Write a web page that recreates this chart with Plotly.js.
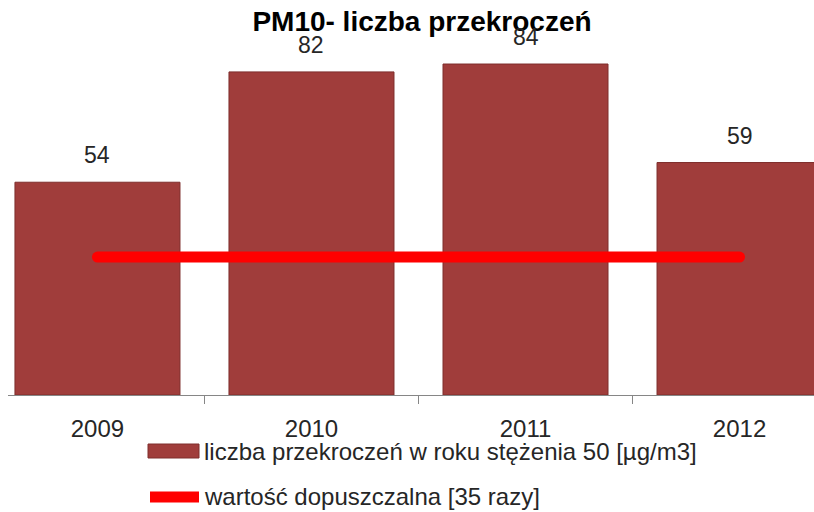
<!DOCTYPE html>
<html>
<head>
<meta charset="utf-8">
<script src="https://cdn.plot.ly/plotly-3.0.1.min.js"></script>
<style>
html,body{margin:0;padding:0;background:#fff;}
#chart{width:814px;height:512px;}
.scatterlayer path.js-line{stroke-linecap:round;}
</style>
</head>
<body>
<div id="chart"></div>
<script>
// ---- data ----
const years = ['2009', '2010', '2011', '2012'];
const exceedances = [54, 82, 84, 59];
const limitValues = [35, 35, 35, 35];
const seriesNames = ['liczba przekroczeń w roku stężenia 50 [µg/m3]', 'wartość dopuszczalna [35 razy]'];
const chartTitle = 'PM10- liczba przekroczeń';

const FONT = '"Liberation Sans", Arial, sans-serif';
const W = 814, H = 512, ML = 8, MB = 117;
const plotW = W - ML, plotH = H - MB;
const px = x => (x - ML) / plotW;      // page x -> paper x
const py = y => (plotH - y) / plotH;   // page y -> paper y

const barColor = '#A03D3B';
const lineColor = '#FF0000';

const traces = [
  {
    type: 'bar', x: years, y: exceedances, name: seriesNames[0],
    marker: {color: barColor, line: {color: '#7E2E2C', width: 1}},
    hoverinfo: 'x+y', showlegend: false
  },
  {
    type: 'scatter', mode: 'lines', x: years, y: limitValues, name: seriesNames[1],
    line: {color: lineColor, width: 11}, showlegend: false
  }
];

// data labels: category index positions on the category axis
const annotations = years.map((yr, i) => ({
  x: i, y: exceedances[i], xref: 'x', yref: 'y',
  text: String(exceedances[i]), showarrow: false,
  yanchor: 'bottom', yshift: 12,
  font: {family: FONT, size: 23, color: '#262626'}
}));

// custom legend texts
annotations.push({
  xref: 'paper', yref: 'paper', x: px(202), y: py(452), xanchor: 'left', yanchor: 'middle',
  text: seriesNames[0], showarrow: false, font: {family: FONT, size: 24, color: '#262626'}
});
annotations.push({
  xref: 'paper', yref: 'paper', x: px(202), y: py(496), xanchor: 'left', yanchor: 'middle',
  text: seriesNames[1], showarrow: false, font: {family: FONT, size: 24, color: '#262626'}
});

const shapes = [
  {type: 'rect', xref: 'paper', yref: 'paper', x0: px(148), x1: px(199), y0: py(458), y1: py(444),
   fillcolor: barColor, line: {color: '#7E2E2C', width: 1}},
  {type: 'line', xref: 'paper', yref: 'paper', x0: px(150), x1: px(199), y0: py(497), y1: py(497),
   line: {color: lineColor, width: 11}}
];

const layout = {
  width: W, height: H,
  margin: {l: ML, r: 0, t: 0, b: MB, pad: 0},
  paper_bgcolor: '#fff', plot_bgcolor: '#fff',
  showlegend: false,
  bargap: 0.229,
  title: {
    text: '<b>' + chartTitle + '</b>',
    x: 422 / W, xref: 'container', xanchor: 'center',
    y: 1 - 11 / H, yref: 'container', yanchor: 'top',
    font: {family: FONT, size: 28, color: '#000'}
  },
  xaxis: {
    type: 'category', categoryorder: 'array', categoryarray: years,
    range: [-0.418, 3.348],
    showline: true, linecolor: '#868686', linewidth: 1,
    ticks: 'outside', tickson: 'boundaries', ticklen: 8, tickcolor: '#868686', tickwidth: 1,
    showgrid: false, zeroline: false,
    tickfont: {family: FONT, size: 24, color: '#262626'},
    ticklabelstandoff: 12
  },
  yaxis: {
    range: [0, 100.25], visible: false, showgrid: false, zeroline: false
  },
  annotations: annotations,
  shapes: shapes
};

Plotly.newPlot('chart', traces, layout, {displayModeBar: false, staticPlot: true});
</script>
</body>
</html>
